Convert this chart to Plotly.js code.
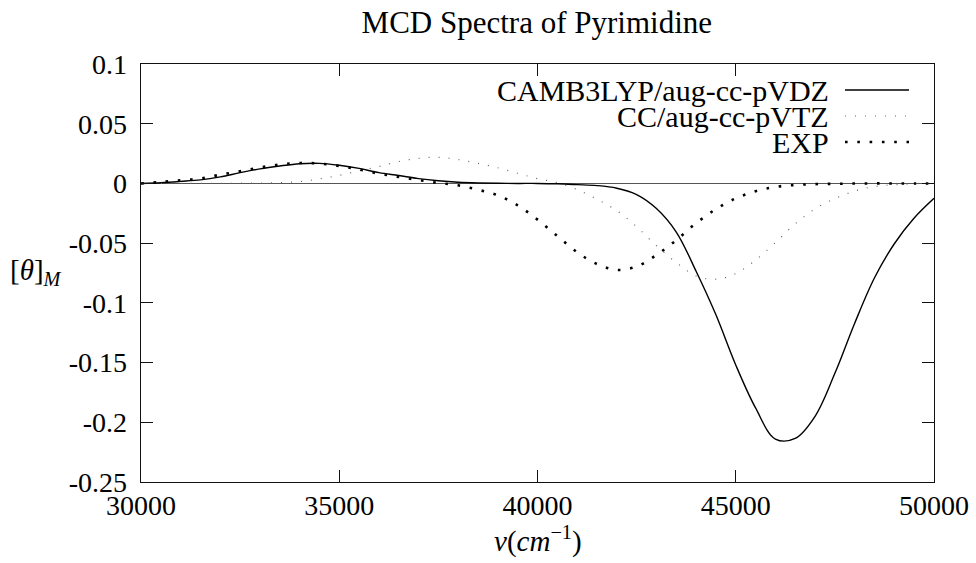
<!DOCTYPE html>
<html>
<head>
<meta charset="utf-8">
<script src="https://cdn.plot.ly/plotly-3.0.1.min.js"></script>
<style>
  html, body { margin: 0; padding: 0; background: #fff; }
  #chart { width: 976px; height: 563px; }
</style>
</head>
<body>
<div id="chart"></div>
<script>
// Wavenumbers (cm^-1)
const nu = [30000, 30500, 31000, 31500, 32000, 32500, 33000, 33500, 34000, 34500,
            35000, 35500, 36000, 36500, 37000, 37500, 38000, 38500, 39000, 39500,
            40000, 40500, 41000, 41500, 42000, 42500, 43000, 43500, 44000, 44500,
            45000, 45500, 46000, 46500, 47000, 47500, 48000, 48500, 49000, 49500, 50000];

const camb3lyp = [0, 0.0006, 0.0017, 0.0030, 0.0055, 0.0090, 0.0122, 0.0146, 0.0165, 0.0168,
                  0.0152, 0.0126, 0.0090, 0.0066, 0.0040, 0.0022, 0.0010, 0.0004, 0.0001, 0,
                  0, -0.0003, -0.0010, -0.0018, -0.0040, -0.0093, -0.0210, -0.0407, -0.0735, -0.1100,
                  -0.1520, -0.1880, -0.2140, -0.2135, -0.1950, -0.1590, -0.1170, -0.0790, -0.0505, -0.0290, -0.0125];

const ccVTZ = [0, 0, 0, 0, 0.0001, 0.0002, 0.0003, 0.0007, 0.0015, 0.0038,
               0.0068, 0.0105, 0.0142, 0.0183, 0.0210, 0.0219, 0.0200, 0.0168, 0.0131, 0.0085,
               0.0040, 0.0006, -0.0052, -0.0133, -0.0228, -0.0363, -0.0522, -0.0662, -0.0775, -0.0802,
               -0.0755, -0.0642, -0.0495, -0.0338, -0.0213, -0.0127, -0.0064, -0.0026, -0.0011, -0.0003, 0];

const expData = [0, 0.0012, 0.0026, 0.0041, 0.0073, 0.0102, 0.0133, 0.0158, 0.0171, 0.0166,
                 0.0146, 0.0117, 0.0082, 0.0054, 0.0028, 0.0004, -0.0016, -0.0053, -0.0100, -0.0183,
                 -0.0303, -0.0440, -0.0576, -0.0675, -0.0724, -0.0696, -0.0599, -0.0475, -0.0333, -0.0215,
                 -0.0125, -0.0066, -0.0029, -0.0013, -0.0006, -0.0003, -0.0001, 0, 0, 0, 0];

const seriesNames = ["CAMB3LYP/aug-cc-pVDZ", "CC/aug-cc-pVTZ", "EXP"];

const xTickVals = [30000, 35000, 40000, 45000, 50000];
const xTickText = ["30000", "35000", "40000", "45000", "50000"];
const yTickVals = [0.1, 0.05, 0, -0.05, -0.1, -0.15, -0.2, -0.25];
const yTickText = ["0.1", "0.05", "0", "-0.05", "-0.1", "-0.15", "-0.2", "-0.25"];

const FONT = "Liberation Serif, DejaVu Serif, serif";

const styles = [
  {color: "#000000", width: 1.4, dash: "solid"},
  {color: "#666666", width: 1.2, dash: "1px,9px"},
  {color: "#000000", width: 2.6, dash: "2.6px,9.7px"}
];

const ys = [camb3lyp, ccVTZ, expData];
const traces = ys.map((y, i) => ({
  x: nu, y: y, type: "scatter", mode: "lines", name: seriesNames[i],
  line: {color: styles[i].color, width: styles[i].width, dash: styles[i].dash, shape: "spline", smoothing: 1},
  showlegend: false, hoverinfo: "skip"
}));

// plot area in pixels: x 141..934, y 64..482
const L = 141, R = 934, T = 64, B = 482;
const px2x = p => (p - L) / (R - L);
const px2y = p => (B - p) / (B - T);

const legendRows = [90, 116, 142];
const annotations = [];
const shapes = [];
seriesNames.forEach((n, i) => {
  annotations.push({
    text: n, xref: "paper", yref: "paper", x: px2x(831), y: px2y(legendRows[i]),
    xanchor: "right", yanchor: "middle", showarrow: false,
    font: {family: FONT, size: 30, color: "#000"}
  });
  shapes.push({
    type: "line", xref: "paper", yref: "paper",
    x0: px2x(845), x1: px2x(909), y0: px2y(legendRows[i]), y1: px2y(legendRows[i]),
    line: {color: styles[i].color, width: styles[i].width, dash: styles[i].dash}
  });
});

// y-axis label (horizontal, as in the reference)
annotations.push({
  text: "[<i>θ</i>]<sub><i>M</i></sub>", xref: "paper", yref: "paper",
  x: px2x(8), y: px2y(272), xanchor: "left", yanchor: "middle", showarrow: false,
  font: {family: FONT, size: 29, color: "#000"}
});
// x-axis label
annotations.push({
  text: "<i>ν</i>(<i>cm</i><sup>−1</sup>)", xref: "paper", yref: "paper",
  x: px2x(538), y: px2y(539), xanchor: "center", yanchor: "middle", showarrow: false,
  font: {family: FONT, size: 29, color: "#000"}
});

const axisCommon = {
  showgrid: false, showline: true, linecolor: "#111", linewidth: 1.4,
  mirror: "allticks", ticks: "inside", ticklen: 12, tickwidth: 1.2, tickcolor: "#111",
  tickfont: {family: FONT, size: 28, color: "#000"}, tickmode: "array"
};

const layout = {
  width: 976, height: 563,
  margin: {l: L, r: 976 - R, t: T, b: 563 - B, pad: 0},
  paper_bgcolor: "#fff", plot_bgcolor: "#fff",
  font: {family: FONT, color: "#000"},
  title: {text: "MCD Spectra of Pyrimidine", font: {family: FONT, size: 31, color: "#000"},
          x: 0.55, xanchor: "center", y: 0.96, yanchor: "middle"},
  xaxis: Object.assign({}, axisCommon, {
    range: [30000, 50000], tickvals: xTickVals, ticktext: xTickText,
    zeroline: false, ticklabelstandoff: -2
  }),
  yaxis: Object.assign({}, axisCommon, {
    range: [-0.25, 0.1], tickvals: yTickVals, ticktext: yTickText,
    zeroline: true, zerolinecolor: "#555", zerolinewidth: 1, ticklabelstandoff: 7
  }),
  annotations: annotations,
  shapes: shapes,
  showlegend: false
};

Plotly.newPlot("chart", traces, layout, {staticPlot: true, displayModeBar: false});
</script>
</body>
</html>
